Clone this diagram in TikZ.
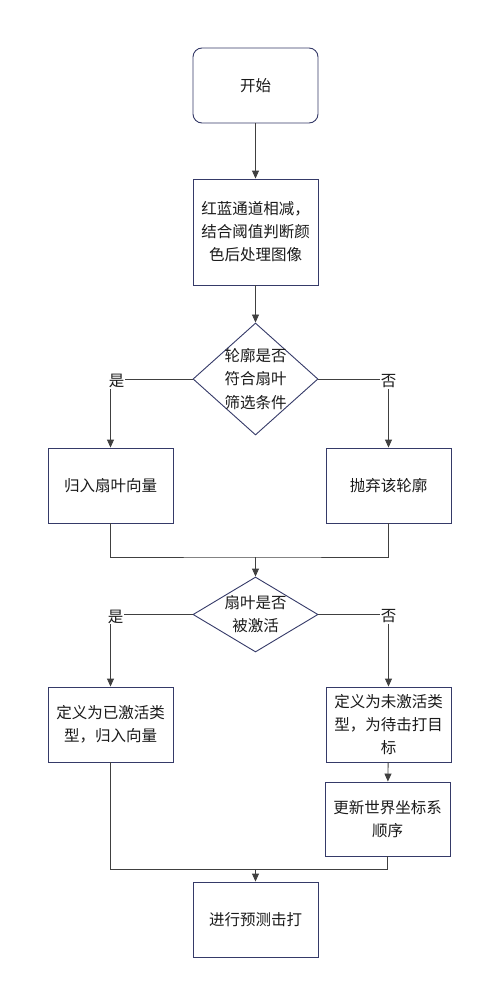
\documentclass[tikz,border=0pt]{standalone}
\usepackage{fontspec}
\setmainfont{Noto Sans CJK SC}
\usetikzlibrary{shapes.geometric,arrows.meta}
\definecolor{edgec}{HTML}{404040}
\definecolor{borderc}{HTML}{353A68}
\definecolor{textc}{HTML}{1A1A1A}
\tikzset{
  base/.style={draw=borderc, line width=0.9pt, fill=white, text=textc, align=center,
    font=\fontsize{15.5}{23}\selectfont, inner sep=0pt},
  procbox/.style={base, rectangle, minimum width=125pt, minimum height=75pt},
  startbox/.style={procbox, rounded corners=9pt},
  decbox/.style={base, diamond, aspect=1.1, minimum width=125pt, minimum height=112pt},
  arr/.style={draw=edgec, line width=0.9pt, -{Triangle[length=8pt,width=7pt]}},
  ln/.style={draw=edgec, line width=0.9pt},
  lbl/.style={fill=white, text=textc, inner sep=1pt, font=\fontsize{15.5}{18}\selectfont}
}
\begin{document}
\begin{tikzpicture}[x=1pt,y=-1pt]
\useasboundingbox (0,0) rectangle (500,1006);
\node[startbox] (start) at (255.5,85.5) {开始};
\node[procbox, minimum height=106pt] (proc) at (255.5,232) {红蓝通道相减，\\结合阈值判断颜\\色后处理图像};
\node[decbox, label={[align=center,text=textc,font=\fontsize{15.5}{23.5}\selectfont]center:轮廓是否\\符合扇叶\\筛选条件}] (d1) at (255.5,379) {};
\node[procbox] (b1) at (110.5,485.5) {归入扇叶向量};
\node[procbox] (b2) at (388.5,485.5) {抛弃该轮廓};
\coordinate (m1) at (255.5,557);
\node[decbox, aspect=1.66, minimum height=75pt, label={[align=center,text=textc,font=\fontsize{15.5}{23}\selectfont]center:扇叶是否\\被激活}] (d2) at (255.5,614.5) {};
\node[procbox] (b3) at (110.5,724.5) {定义为已激活类\\型，归入向量};
\node[procbox] (b4) at (388.5,724.5) {定义为未激活类\\型，为待击打目\\标};
\node[procbox, minimum height=74pt] (b5) at (387.5,819) {更新世界坐标系\\顺序};
\coordinate (m2) at (255.5,869.5);
\node[procbox] (b6) at (255.5,919.5) {进行预测击打};

\draw[arr] (start) -- (proc);
\draw[arr] (proc) -- (d1);
\draw[arr] (d1.west) -| node[lbl, pos=0.5, xshift=6pt, yshift=-2pt] (l1) {是} (b1.north);
\draw[arr] (d1.east) -| node[lbl, pos=0.5, yshift=-2pt] (l2) {否} (b2.north);
\draw[ln] (b1.south) |- (m1) -| (b2.south);
\draw[arr] (m1) -- (d2.north);
\draw[arr] (d2.west) -| node[lbl, pos=0.5, xshift=5pt, yshift=-2pt] (l3) {是} (b3.north);
\draw[arr] (d2.east) -| node[lbl, pos=0.5, yshift=-2pt] (l4) {否} (b4.north);
\draw[arr] (b4) -- (b5);
\draw[ln] (b3.south) |- (m2);
\draw[ln] (b5.south) |- (m2);
\draw[arr] (m2) -- (b6.north);
\end{tikzpicture}
\end{document}
